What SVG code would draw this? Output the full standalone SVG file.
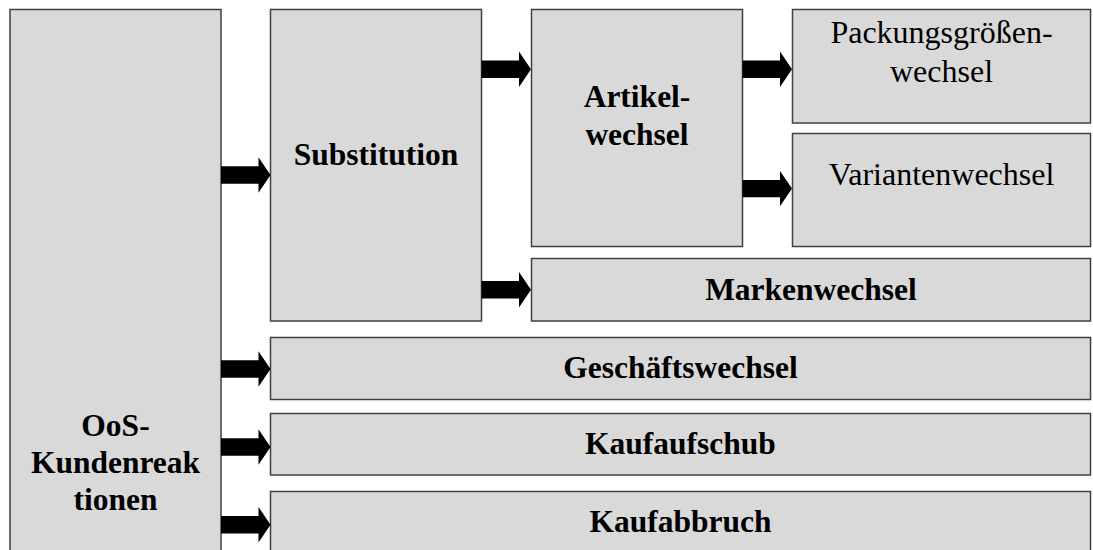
<svg xmlns="http://www.w3.org/2000/svg" xmlns:xlink="http://www.w3.org/1999/xlink" width="1093" height="550" viewBox="0 0 1093 550">
<style>
.box{fill:#d9d9d9;stroke:#404040;stroke-width:1.5}
.b{font-family:"Liberation Serif","Times New Roman",serif;font-weight:bold;font-size:31.5px;fill:#000;text-anchor:middle}
.r{font-family:"Liberation Serif","Times New Roman",serif;font-size:32px;fill:#000;text-anchor:middle}
.arr{fill:#000}
</style>
<defs>
<path id="arrow" d="M0,-8.7 H37.5 V-17.7 L49.5,0 L37.5,17.7 V8.7 H0 Z"/>
</defs>
<rect width="1093" height="550" fill="#fff"/>
<g id="oos">
<rect class="box" x="10" y="9.5" width="211" height="560"/>
<text class="b" x="115.5" y="436">OoS-</text>
<text class="b" x="115.5" y="473">Kundenreak</text>
<text class="b" x="115.5" y="510">tionen</text>
</g>
<g id="substitution">
<rect class="box" x="270.5" y="9.5" width="211" height="311.5"/>
<text class="b" x="376" y="165">Substitution</text>
</g>
<g id="artikelwechsel">
<rect class="box" x="531.5" y="9.5" width="211" height="237"/>
<text class="b" x="637" y="106.5">Artikel-</text>
<text class="b" x="637" y="145">wechsel</text>
</g>
<g id="packungsgroessenwechsel">
<rect class="box" x="792.5" y="9.5" width="298" height="113.5"/>
<text class="r" x="941.5" y="43">Packungsgrößen-</text>
<text class="r" x="941.5" y="82">wechsel</text>
</g>
<g id="variantenwechsel">
<rect class="box" x="792.5" y="133.5" width="298" height="113"/>
<text class="r" x="941.5" y="185">Variantenwechsel</text>
</g>
<g id="markenwechsel">
<rect class="box" x="531.5" y="258.5" width="559" height="62.5"/>
<text class="b" x="811" y="299.5">Markenwechsel</text>
</g>
<g id="geschaeftswechsel">
<rect class="box" x="270.5" y="337.5" width="820" height="62"/>
<text class="b" x="680.5" y="377.5">Geschäftswechsel</text>
</g>
<g id="kaufaufschub">
<rect class="box" x="270.5" y="413.5" width="820" height="61.5"/>
<text class="b" x="680.5" y="453.5">Kaufaufschub</text>
</g>
<g id="kaufabbruch">
<rect class="box" x="270.5" y="491.5" width="820" height="80"/>
<text class="b" x="680.5" y="531.5">Kaufabbruch</text>
</g>
<g id="connectors" class="arr">
<use xlink:href="#arrow" transform="translate(221,175)"/>
<use xlink:href="#arrow" transform="translate(481.5,69.2)"/>
<use xlink:href="#arrow" transform="translate(742.5,69.3)"/>
<use xlink:href="#arrow" transform="translate(742.5,188.6)"/>
<use xlink:href="#arrow" transform="translate(481.5,289.8)"/>
<use xlink:href="#arrow" transform="translate(221,369)"/>
<use xlink:href="#arrow" transform="translate(221,447)"/>
<use xlink:href="#arrow" transform="translate(221,524.7)"/>
</g>
</svg>
